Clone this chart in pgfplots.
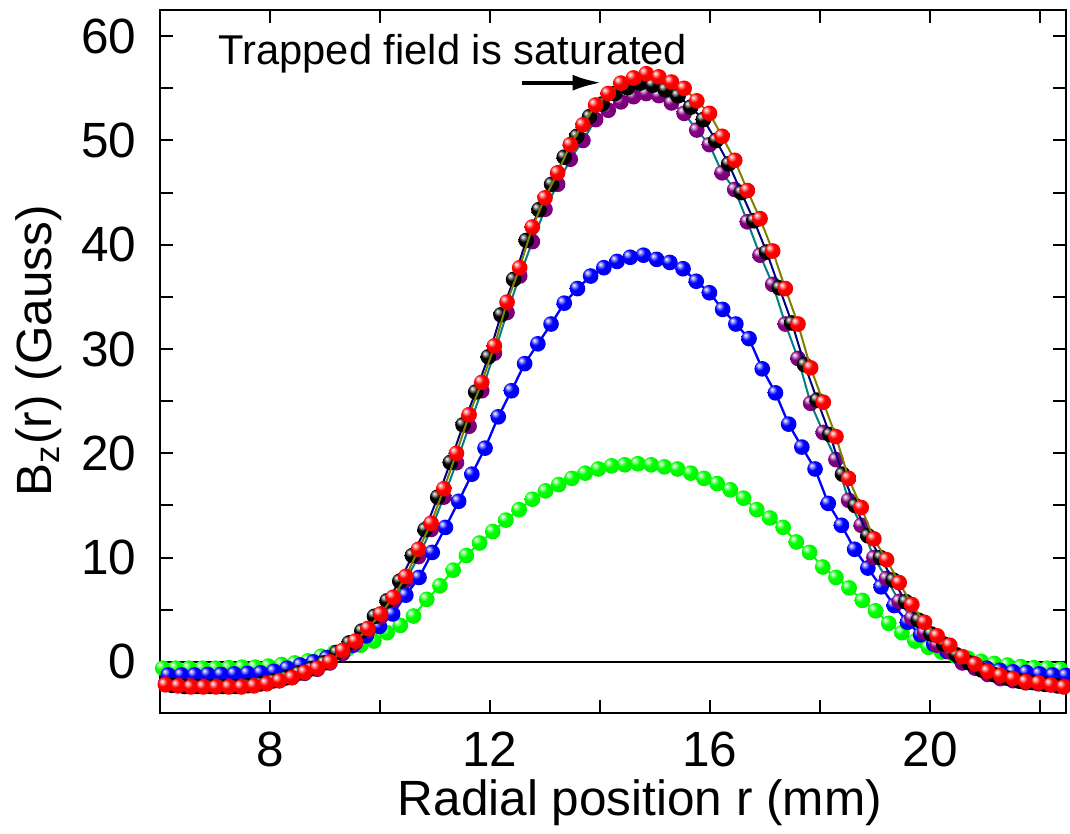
\documentclass[border=0pt]{standalone}
\usepackage{pgfplots}
\pgfplotsset{compat=1.18}
\usepackage{fontspec}
\setmainfont{Liberation Sans}
\usetikzlibrary{arrows.meta}
\definecolor{cgreen}{RGB}{0,255,0}
\definecolor{cblue}{RGB}{0,0,255}
\definecolor{cpurple}{RGB}{128,0,128}
\definecolor{cred}{RGB}{255,0,0}
\definecolor{cnavy}{RGB}{0,0,128}
\definecolor{colive}{RGB}{128,128,0}
\definecolor{cteal}{RGB}{0,128,128}
\makeatletter
\pgfdeclareradialshading[tikz@ball]{ball}{\pgfqpoint{-12bp}{12bp}}{%
 color(0bp)=(white); color(5bp)=(tikz@ball!35!white); color(14bp)=(tikz@ball);
 color(40bp)=(tikz@ball!92!black); color(62bp)=(tikz@ball!75!black)}
\makeatother
\newcommand{\fs}{\fontsize{14.85}{17}\selectfont}
\pgfplotsset{ballmk/.style={mark=ball, mark size=2.35pt, mark options={ball color=#1, draw opacity=0, line width=0pt}}}
\begin{document}
\begin{tikzpicture}
\begin{axis}[
  scale only axis,
  width=271.8pt, height=210.9pt,
  xmin=6, xmax=22.47, ymin=-4.89, ymax=62.51,
  clip mode=individual,
  axis line style={line width=0.8pt},
  xtick={8,12,16,20}, minor xtick={6,10,14,18,22},
  ytick={0,10,20,30,40,50,60}, minor ytick={5,15,25,35,45,55},
  tick align=inside,
  major tick length=3.9pt, minor tick length=3.9pt,
  every tick/.style={black, line width=0.6pt},
  /pgf/number format/assume math mode=true,
  ticklabel style={font=\fs},
  xticklabel style={inner sep=0pt, anchor=north, yshift=-5.4pt},
  yticklabel style={inner sep=0pt, anchor=east, xshift=-6.9pt},
]
\coordinate (bbl) at (axis cs:3.0909,-16.49);
\coordinate (btr) at (axis cs:22.5455,63.47);

\addplot[black, line width=0.7pt, forget plot] coordinates {(6,0) (22.47,0)};

% green
\addplot[cgreen, line width=0.6pt, ballmk=cgreen] coordinates {
(6.05,-0.6) (6.29,-0.6) (6.53,-0.6) (6.77,-0.6) (7.01,-0.6) (7.25,-0.55) (7.49,-0.5) (7.73,-0.5) (7.97,-0.4) (8.21,-0.25)
(8.45,-0.1) (8.69,0.1) (8.93,0.55) (9.17,0.9) (9.41,1.25) (9.65,1.6) (9.89,2.0) (10.13,2.8) (10.37,3.5) (10.61,4.4)
(10.85,6.0) (11.09,7.3) (11.33,8.8) (11.57,10.2) (11.81,11.4) (12.05,12.5) (12.29,13.6) (12.53,14.6) (12.77,15.6) (13.01,16.4)
(13.25,17.0) (13.49,17.6) (13.73,18.1) (13.97,18.5) (14.21,18.8) (14.45,18.9) (14.69,19.0) (14.93,18.9) (15.17,18.7) (15.41,18.5)
(15.65,18.1) (15.89,17.6) (16.13,17.1) (16.37,16.5) (16.61,15.7) (16.85,14.6) (17.09,13.8) (17.33,12.9) (17.57,11.5) (17.81,10.5)
(18.05,9.1) (18.29,8.1) (18.53,7.1) (18.77,5.9) (19.01,4.9) (19.25,3.7) (19.49,2.8) (19.73,2.0) (19.97,1.4) (20.21,0.95)
(20.45,0.6) (20.69,0.35) (20.93,0.05) (21.17,-0.15) (21.41,-0.3) (21.65,-0.45) (21.89,-0.55) (22.13,-0.6) (22.37,-0.7)
};

% blue
\addplot[cblue, line width=0.7pt, ballmk=cblue] coordinates {
(6.15,-1.25) (6.39,-1.25) (6.63,-1.25) (6.87,-1.2) (7.11,-1.2) (7.35,-1.15) (7.59,-1.1) (7.83,-1.05) (8.07,-0.9) (8.31,-0.6)
(8.55,-0.3) (8.79,0.0) (9.03,0.4) (9.27,0.9) (9.51,1.6) (9.75,2.5) (9.99,3.4) (10.23,4.6) (10.47,6.4) (10.71,8.1)
(10.95,10.5) (11.19,12.9) (11.43,15.4) (11.67,18.0) (11.91,20.5) (12.15,23.5) (12.39,26.0) (12.63,28.6) (12.87,30.5) (13.11,32.4)
(13.35,34.4) (13.59,35.8) (13.83,37.0) (14.07,37.8) (14.31,38.4) (14.55,38.8) (14.79,39.0) (15.03,38.6) (15.27,38.3) (15.51,37.7)
(15.75,36.5) (15.99,35.4) (16.23,33.8) (16.47,32.4) (16.71,31.0) (16.95,28.1) (17.19,25.8) (17.43,22.8) (17.67,20.6) (17.91,18.5)
(18.15,15.2) (18.39,13.1) (18.63,10.8) (18.87,9.0) (19.11,7.2) (19.35,5.4) (19.59,3.8) (19.83,2.6) (20.07,1.7) (20.31,1.0)
(20.55,0.3) (20.79,-0.2) (21.03,-0.6) (21.27,-0.8) (21.51,-0.95) (21.75,-1.0) (21.99,-1.15) (22.23,-1.25) (22.47,-1.3)
};

% purple
\addplot[cteal, line width=0.6pt, ballmk=cpurple] coordinates {
(6.10,-2.1) (6.33,-2.2) (6.56,-2.2) (6.79,-2.3) (7.02,-2.3) (7.25,-2.3) (7.48,-2.3) (7.71,-2.2) (7.94,-2.0) (8.17,-1.8)
(8.40,-1.5) (8.63,-1.1) (8.86,-0.7) (9.09,-0.1) (9.32,0.8) (9.55,1.8) (9.78,3.0) (10.01,4.3) (10.24,5.9) (10.47,7.8)
(10.70,10.1) (10.93,12.7) (11.16,15.8) (11.39,19.1) (11.62,22.6) (11.85,26.0) (12.08,29.6) (12.31,33.5) (12.54,37.0) (12.77,40.3)
(13.00,43.4) (13.23,45.8) (13.46,48.2) (13.69,50.0) (13.92,52.0) (14.15,52.9) (14.38,53.7) (14.61,54.2) (14.84,54.5) (15.07,54.3)
(15.30,53.6) (15.53,52.6) (15.76,51.0) (15.99,49.6) (16.22,46.9) (16.45,45.3) (16.68,42.2) (16.91,39.0) (17.14,36.2) (17.37,32.4)
(17.60,29.1) (17.83,24.8) (18.06,22.0) (18.29,19.4) (18.52,15.5) (18.75,13.1) (18.98,10.0) (19.21,8.0) (19.44,5.8) (19.67,4.2)
(19.90,2.8) (20.13,1.6) (20.36,1.0) (20.59,-0.1) (20.82,-0.6) (21.05,-1.2) (21.28,-1.6) (21.51,-1.8) (21.74,-2.0) (21.97,-2.1)
(22.20,-2.2) (22.43,-2.3)
};

% black
\addplot[cnavy, line width=0.6pt, ballmk=black] coordinates {
(6.22,-2.25) (6.45,-2.35) (6.68,-2.35) (6.91,-2.35) (7.14,-2.35) (7.37,-2.35) (7.60,-2.28) (7.83,-2.1) (8.06,-1.82) (8.29,-1.53)
(8.52,-1.07) (8.75,-0.66) (8.98,-0.1) (9.21,0.9) (9.44,1.82) (9.67,2.96) (9.90,4.38) (10.13,5.86) (10.36,7.74) (10.59,10.2)
(10.82,12.68) (11.05,15.8) (11.28,19.13) (11.51,22.73) (11.74,25.88) (11.97,29.25) (12.20,33.28) (12.43,36.68) (12.66,40.42) (12.89,43.36)
(13.12,45.8) (13.35,48.4) (13.58,50.4) (13.81,52.28) (14.04,53.5) (14.27,54.5) (14.50,55.07) (14.73,55.5) (14.96,55.3) (15.19,54.86)
(15.42,54.28) (15.65,53.2) (15.88,52.0) (16.11,50.0) (16.34,47.76) (16.57,45.0) (16.80,42.3) (17.03,39.3) (17.26,35.87) (17.49,32.5)
(17.72,28.5) (17.95,25.1) (18.18,21.8) (18.41,18.0) (18.64,15.0) (18.87,12.1) (19.10,10.0) (19.33,7.85) (19.56,5.77) (19.79,4.0)
(20.02,2.68) (20.25,1.72) (20.48,0.68) (20.71,-0.08) (20.94,-0.78) (21.17,-1.23) (21.40,-1.55) (21.63,-1.85) (21.86,-1.98) (22.09,-2.15)
(22.32,-2.3)
};

% red
\addplot[colive, line width=0.6pt, ballmk=cred] coordinates {
(6.10,-2.2) (6.33,-2.3) (6.56,-2.4) (6.79,-2.4) (7.02,-2.4) (7.25,-2.4) (7.48,-2.4) (7.71,-2.3) (7.94,-2.1) (8.17,-1.8)
(8.40,-1.5) (8.63,-1.0) (8.86,-0.6) (9.09,0.0) (9.32,1.1) (9.55,2.0) (9.78,3.2) (10.01,4.6) (10.24,6.2) (10.47,8.2)
(10.70,10.8) (10.93,13.3) (11.16,16.6) (11.39,20.0) (11.62,23.7) (11.85,26.8) (12.08,30.3) (12.31,34.5) (12.54,37.8) (12.77,41.7)
(13.00,44.5) (13.23,46.9) (13.46,49.6) (13.69,51.5) (13.92,53.4) (14.15,54.5) (14.38,55.5) (14.61,56.0) (14.84,56.4) (15.07,56.1)
(15.30,55.6) (15.53,55.0) (15.76,53.8) (15.99,52.6) (16.22,50.4) (16.45,48.1) (16.68,45.2) (16.91,42.5) (17.14,39.4) (17.37,35.8)
(17.60,32.4) (17.83,28.2) (18.06,24.9) (18.29,21.6) (18.52,17.6) (18.75,14.8) (18.98,11.8) (19.21,9.8) (19.44,7.6) (19.67,5.5)
(19.90,3.8) (20.13,2.5) (20.36,1.6) (20.59,0.5) (20.82,-0.2) (21.05,-0.9) (21.28,-1.3) (21.51,-1.6) (21.74,-1.9) (21.97,-2.0)
(22.20,-2.2) (22.43,-2.4)
};

\node[anchor=base west, inner sep=0pt, font=\fontsize{12.5}{14}\selectfont] at (axis cs:7.055,57.24) {Trapped field is saturated};
\draw[line width=1.2pt, -{Latex[length=8.7pt, width=4.8pt]}] (axis cs:12.59,55.54) -- (axis cs:14.03,55.54);
\node[anchor=base, inner sep=0pt, font=\fs] at (axis cs:14.727,-14.77) {Radial position r (mm)};
\node[rotate=90, anchor=center, inner sep=0pt, font=\fs] at (axis cs:3.8,29.82) {B\textsubscript{z}(r) (Gauss)};
\end{axis}
\pgfresetboundingbox
\path[use as bounding box] (bbl) rectangle (btr);
\end{tikzpicture}
\end{document}
